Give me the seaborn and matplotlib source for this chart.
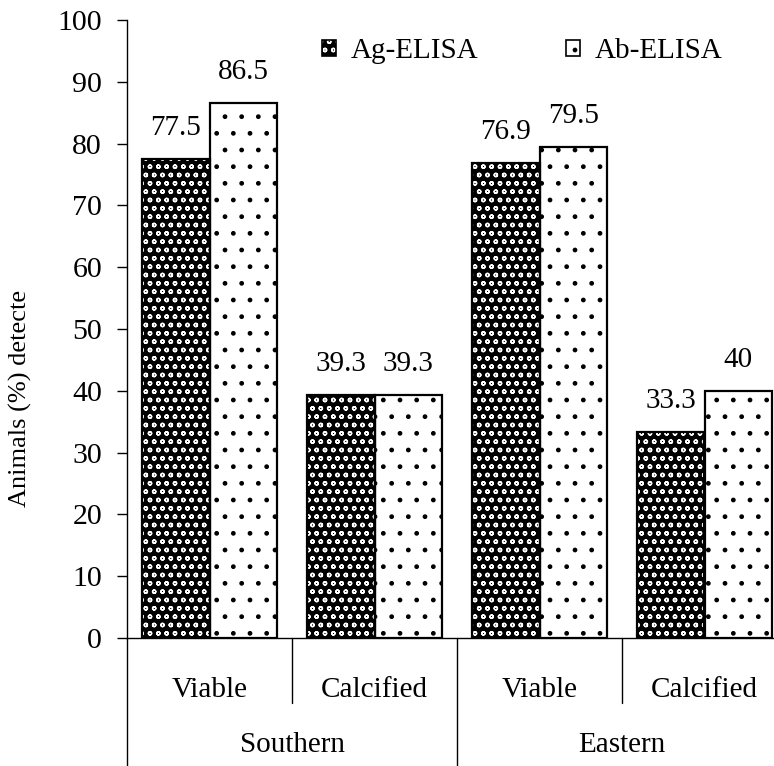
import matplotlib
matplotlib.use("Agg")
import matplotlib.pyplot as plt
import matplotlib.patches as mpatches
import seaborn as sns
import pandas as pd

# Data
regions = ["Southern", "Southern", "Eastern", "Eastern"]
stages = ["Viable", "Calcified", "Viable", "Calcified"]
ag_elisa = [77.5, 39.3, 76.9, 33.3]
ab_elisa = [86.5, 39.3, 79.5, 40]
assays = ["Ag-ELISA", "Ab-ELISA"]
y_ticks = list(range(0, 101, 10))

sns.set_style("ticks")
plt.rcParams["font.family"] = ["Liberation Serif", "DejaVu Serif"]
plt.rcParams.update({
    "hatch.linewidth": 1.0,
    "text.color": "black",
    "axes.edgecolor": "black",
    "axes.labelcolor": "black",
    "xtick.color": "black",
    "ytick.color": "black",
})

keys = [f"{r} {s}" for r, s in zip(regions, stages)]
df = pd.DataFrame({
    "group": keys * 2,
    "value": ag_elisa + ab_elisa,
    "assay": [assays[0]] * 4 + [assays[1]] * 4,
})

W, H = 774, 766
fig = plt.figure(figsize=(W / 100, H / 100), dpi=100)
ax_left, ax_top, ax_bottom, ax_w = 127, 20, 638, 660
ax = fig.add_axes([ax_left / W, (H - ax_bottom) / H, ax_w / W, (ax_bottom - ax_top) / H])

sns.barplot(data=df, x="group", y="value", hue="assay", order=keys,
            hue_order=assays, palette=["black", "white"], width=0.82,
            saturation=1, legend=False, ax=ax, errorbar=None)

FS = 21
DARK_HATCH = "oo"
LIGHT_HATCH = "."
dark_cont, light_cont = ax.containers[0], ax.containers[1]
for p in dark_cont:
    p.set_facecolor("black")
    p.set_edgecolor("white")
    p.set_hatch(DARK_HATCH)
    p.set_linewidth(0)
for p in light_cont:
    p.set_facecolor("white")
    p.set_edgecolor("black")
    p.set_hatch(LIGHT_HATCH)
    p.set_linewidth(0)
for cont in (dark_cont, light_cont):
    for p in cont:
        ax.add_patch(mpatches.Rectangle(p.get_xy(), p.get_width(), p.get_height(),
                                        fill=False, edgecolor="black", lw=1.6, zorder=3))

for cont, vals in ((dark_cont, ag_elisa), (light_cont, ab_elisa)):
    ax.bar_label(cont, labels=[f"{v:g}" for v in vals], padding=13, fontsize=FS)

ax.set_ylim(0, 100)
ax.set_xlim(-0.5, 3.5)
ax.set_yticks(y_ticks)
ax.tick_params(axis="y", labelsize=21.5, length=7, width=1, direction="out", pad=11)
ax.set_xticks(range(4))
ax.set_xticklabels(stages, fontsize=FS)
ax.tick_params(axis="x", length=0, pad=28)
ax.set_xlabel("")
ax.set_ylabel("")
for side in ("top", "right"):
    ax.spines[side].set_visible(False)
for side in ("left", "bottom"):
    ax.spines[side].set_linewidth(1.0)

# Separator lines under the category axis
tr = ax.get_xaxis_transform()
ax_h = ax_bottom - ax_top
fig_bottom = -(H - ax_bottom) / ax_h
for x in (-0.5, 1.5):
    ax.plot([x, x], [0, fig_bottom], color="black", lw=1.0, transform=tr, clip_on=False)
for x in (0.5, 2.5):
    ax.plot([x, x], [0, -(703 - ax_bottom) / ax_h], color="black", lw=1.0,
            transform=tr, clip_on=False)
for x, name in ((0.5, "Southern"), (2.5, "Eastern")):
    ax.text(x, -(745 - ax_bottom) / ax_h, name, transform=tr, ha="center",
            va="center", fontsize=FS)

# Legend
dark_h = (mpatches.Patch(facecolor="black", edgecolor="white", hatch=DARK_HATCH, lw=0),
          mpatches.Patch(fill=False, edgecolor="black", lw=1.2))
light_h = mpatches.Patch(facecolor="white", edgecolor="black", hatch=LIGHT_HATCH, lw=1.2)
fig.legend([dark_h, light_h], assays, loc="center left",
           bbox_to_anchor=(322 / W, 1 - 51 / H), ncol=2, frameon=False,
           fontsize=FS, handlelength=0.48, handleheight=0.48, handletextpad=0.5,
           columnspacing=3.0, borderpad=0, borderaxespad=0)

fig.text(20 / W, 1 - 398 / H, "Animals (%) detecte", rotation=90,
         ha="center", va="center", fontsize=19)

fig.savefig("out.png", dpi=100)
